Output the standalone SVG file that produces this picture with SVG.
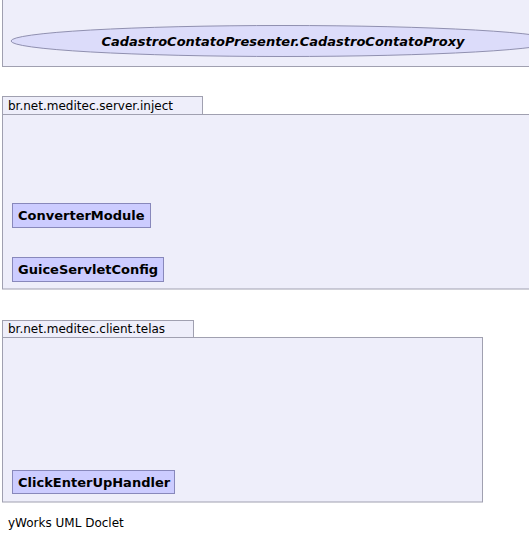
<svg xmlns="http://www.w3.org/2000/svg" width="529" height="540" viewBox="0 0 529 540">
<style>
.pkg{fill:#eeeefa;stroke:#a0a0b0;stroke-width:1}
.cls{fill:#ccccff;stroke:#8888bb;stroke-width:1}
.tab{font-family:"DejaVu Sans",sans-serif;font-size:12px;fill:#000}
.name{font-family:"DejaVu Sans",sans-serif;font-size:13px;font-weight:bold;fill:#000}
</style>
<rect width="529" height="540" fill="#ffffff"/>
<g id="pkg-top">
<rect class="pkg" x="2.5" y="-10" width="540" height="76.5"/>
</g>
<g id="CadastroContatoProxy">
<ellipse cx="283" cy="41" rx="272" ry="15.5" fill="#dcdcfa" stroke="#9090b0"/>
<text class="name" x="283" y="46" text-anchor="middle" font-style="italic">CadastroContatoPresenter.CadastroContatoProxy</text>
</g>
<g id="pkg-server-inject">
<rect class="pkg" x="2.5" y="96.5" width="200" height="18"/>
<text class="tab" x="8" y="110">br.net.meditec.server.inject</text>
<rect class="pkg" x="2.5" y="114.5" width="540" height="174.5"/>
</g>
<g id="ConverterModule">
<rect class="cls" x="12.5" y="203.5" width="138" height="24"/>
<text class="name" x="18" y="220">ConverterModule</text>
</g>
<g id="GuiceServletConfig">
<rect class="cls" x="12.5" y="257.5" width="151" height="24"/>
<text class="name" x="18" y="274">GuiceServletConfig</text>
</g>
<g id="pkg-client-telas">
<rect class="pkg" x="2.5" y="320.5" width="191" height="17"/>
<text class="tab" x="8" y="333">br.net.meditec.client.telas</text>
<rect class="pkg" x="2.5" y="337.5" width="480" height="164.5"/>
</g>
<g id="ClickEnterUpHandler">
<rect class="cls" x="12.5" y="470.5" width="162" height="23"/>
<text class="name" x="18" y="487">ClickEnterUpHandler</text>
</g>
<g id="connectors"></g>
<text class="tab" x="8" y="527">yWorks UML Doclet</text>
</svg>
